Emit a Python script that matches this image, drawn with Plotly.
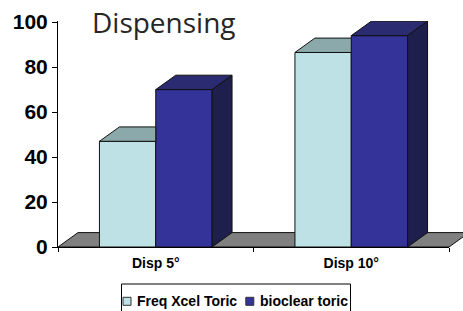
import plotly.graph_objects as go

# ---- data ----
categories = ["Disp 5°", "Disp 10°"]
freq_xcel = [47, 86.5]
bioclear = [70, 94]
series_names = ["Freq Xcel Toric", "bioclear toric"]
y_ticks = [0, 20, 40, 60, 80, 100]
title_text = "Dispensing"

# ---- styling / geometry ----
FREQ_FRONT = "#BDE1E4"
FREQ_TOP = "#8BA9AA"
BIO_FRONT = "#333399"
BIO_TOP = "#2B2B72"
BIO_SIDE = "#1F1F4E"
FLOOR = "#808080"
EDGE = "#111111"
FONT = "Arial, Liberation Sans"

W = 0.288        # bar width in category units
DX = 0.1023      # 3D depth, x (category units)
DY = 6.4         # 3D depth, y (value units)
XR = [-0.5, len(categories) - 0.5]
YR = [0, 100.5]

FIG_W, FIG_H = 463, 311
M_L, M_R, M_T, M_B = 58, 14, 21, 64
PLOT_W = FIG_W - M_L - M_R
PLOT_H = FIG_H - M_T - M_B

xs = list(range(len(categories)))

fig = go.Figure()

fig.add_trace(go.Bar(
    x=xs, y=freq_xcel, name=series_names[0], width=W, offset=-W,
    marker=dict(color=FREQ_FRONT, line=dict(color=EDGE, width=1)),
    hoverinfo="skip"))
fig.add_trace(go.Bar(
    x=xs, y=bioclear, name=series_names[1], width=W, offset=0,
    marker=dict(color=BIO_FRONT, line=dict(color=EDGE, width=1)),
    hoverinfo="skip"))

# 3D faces computed from the data values
ftop_x, ftop_y = [], []
btop_x, btop_y = [], []
bside_x, bside_y = [], []
for c, f, b in zip(xs, freq_xcel, bioclear):
    x0, x1 = c - W, c
    if b >= f + DY:  # front of the neighbouring bar hides the right part
        px = [x0, x1, x1, x0 + DX, x0]
    else:
        px = [x0, x1, x1 + DX, x0 + DX, x0]
    py = [f, f, f + DY, f + DY, f]
    ftop_x += px + [None]
    ftop_y += py + [None]
    x0, x1 = c, c + W
    btop_x += [x0, x1, x1 + DX, x0 + DX, x0, None]
    btop_y += [b, b, b + DY, b + DY, b, None]
    bside_x += [x1, x1 + DX, x1 + DX, x1, x1, None]
    bside_y += [0, DY, b + DY, b, 0, None]

for fx, fy, col in [(ftop_x, ftop_y, FREQ_TOP), (btop_x, btop_y, BIO_TOP),
                    (bside_x, bside_y, BIO_SIDE)]:
    fig.add_trace(go.Scatter(
        x=fx, y=fy, mode="lines", fill="toself", fillcolor=col,
        line=dict(color=EDGE, width=1), showlegend=False, hoverinfo="skip"))


def px_(x):
    return (x - XR[0]) / (XR[1] - XR[0])


def py_(y):
    return (y - YR[0]) / (YR[1] - YR[0])


def ppx(p):  # page pixel x -> paper
    return (p - M_L) / PLOT_W


def ppy(p):  # page pixel y -> paper
    return (FIG_H - M_B - p) / PLOT_H


# floor (extends beyond the plotting area on the right)
fl = [(px_(XR[0]), py_(0)), (px_(XR[1]), py_(0)),
      (px_(XR[1] + DX), py_(DY)), (px_(XR[0] + DX), py_(DY))]
path = "M " + " L ".join(f"{a},{b}" for a, b in fl) + " Z"
fig.add_shape(type="path", path=path, xref="paper", yref="paper",
              fillcolor=FLOOR, line=dict(color=EDGE, width=1), layer="below")

fig.add_annotation(
    text=title_text, xref="paper", yref="paper", x=px_(-0.336), y=py_(100),
    xanchor="left", yanchor="middle", showarrow=False,
    font=dict(family="Open Sans", size=28, color="#262626"))

# legend box (boxed, one row, below the axis)
fig.add_shape(type="rect", xref="paper", yref="paper",
              x0=ppx(121.5), x1=ppx(350.5), y0=ppy(284), y1=ppy(330),
              line=dict(color="black", width=1), fillcolor="white")
key_x = [127, 249.8]
text_x = [135, 258]
for name, col, kx, tx in zip(series_names, [FREQ_FRONT, BIO_FRONT],
                             key_x, text_x):
    fig.add_shape(type="rect", xref="paper", yref="paper",
                  x0=ppx(kx - 4), x1=ppx(kx + 4),
                  y0=ppy(297.3), y1=ppy(305.3),
                  line=dict(color="#333333", width=1), fillcolor=col)
    fig.add_annotation(
        text=name, xref="paper", yref="paper", x=ppx(tx), y=ppy(301.3),
        xanchor="left", yanchor="middle", showarrow=False,
        font=dict(family=FONT, size=14, color="black", weight="bold"))

fig.update_layout(
    width=FIG_W, height=FIG_H,
    margin=dict(l=M_L, r=M_R, t=M_T, b=M_B, autoexpand=False),
    paper_bgcolor="white", plot_bgcolor="white",
    barmode="overlay",
    showlegend=False,
    hovermode=False,
    font=dict(family=FONT),
)

fig.update_xaxes(
    range=XR, tickmode="array", tickvals=xs, ticktext=categories,
    ticks="", showgrid=False, zeroline=False, automargin=False,
    showline=True, linecolor="black", linewidth=1,
    ticklabelstandoff=3,
    tickfont=dict(family=FONT, size=14, color="black", weight="bold"),
    minor=dict(tickmode="array", tickvals=[x - 0.5 for x in xs] + [XR[1]],
               ticks="outside", ticklen=4, tickcolor="black", tickwidth=1),
)
fig.update_yaxes(
    range=YR, tickmode="array", tickvals=y_ticks, automargin=False,
    ticks="outside", ticklen=5, tickcolor="black",
    showgrid=False, zeroline=False,
    showline=True, linecolor="black", linewidth=1,
    tickfont=dict(family=FONT, size=21, color="black", weight="bold"),
)

fig.write_html("out.html",
               config={"displayModeBar": False},
               post_script="document.body.style.margin='0';"
                           "document.body.style.overflow='hidden';")
